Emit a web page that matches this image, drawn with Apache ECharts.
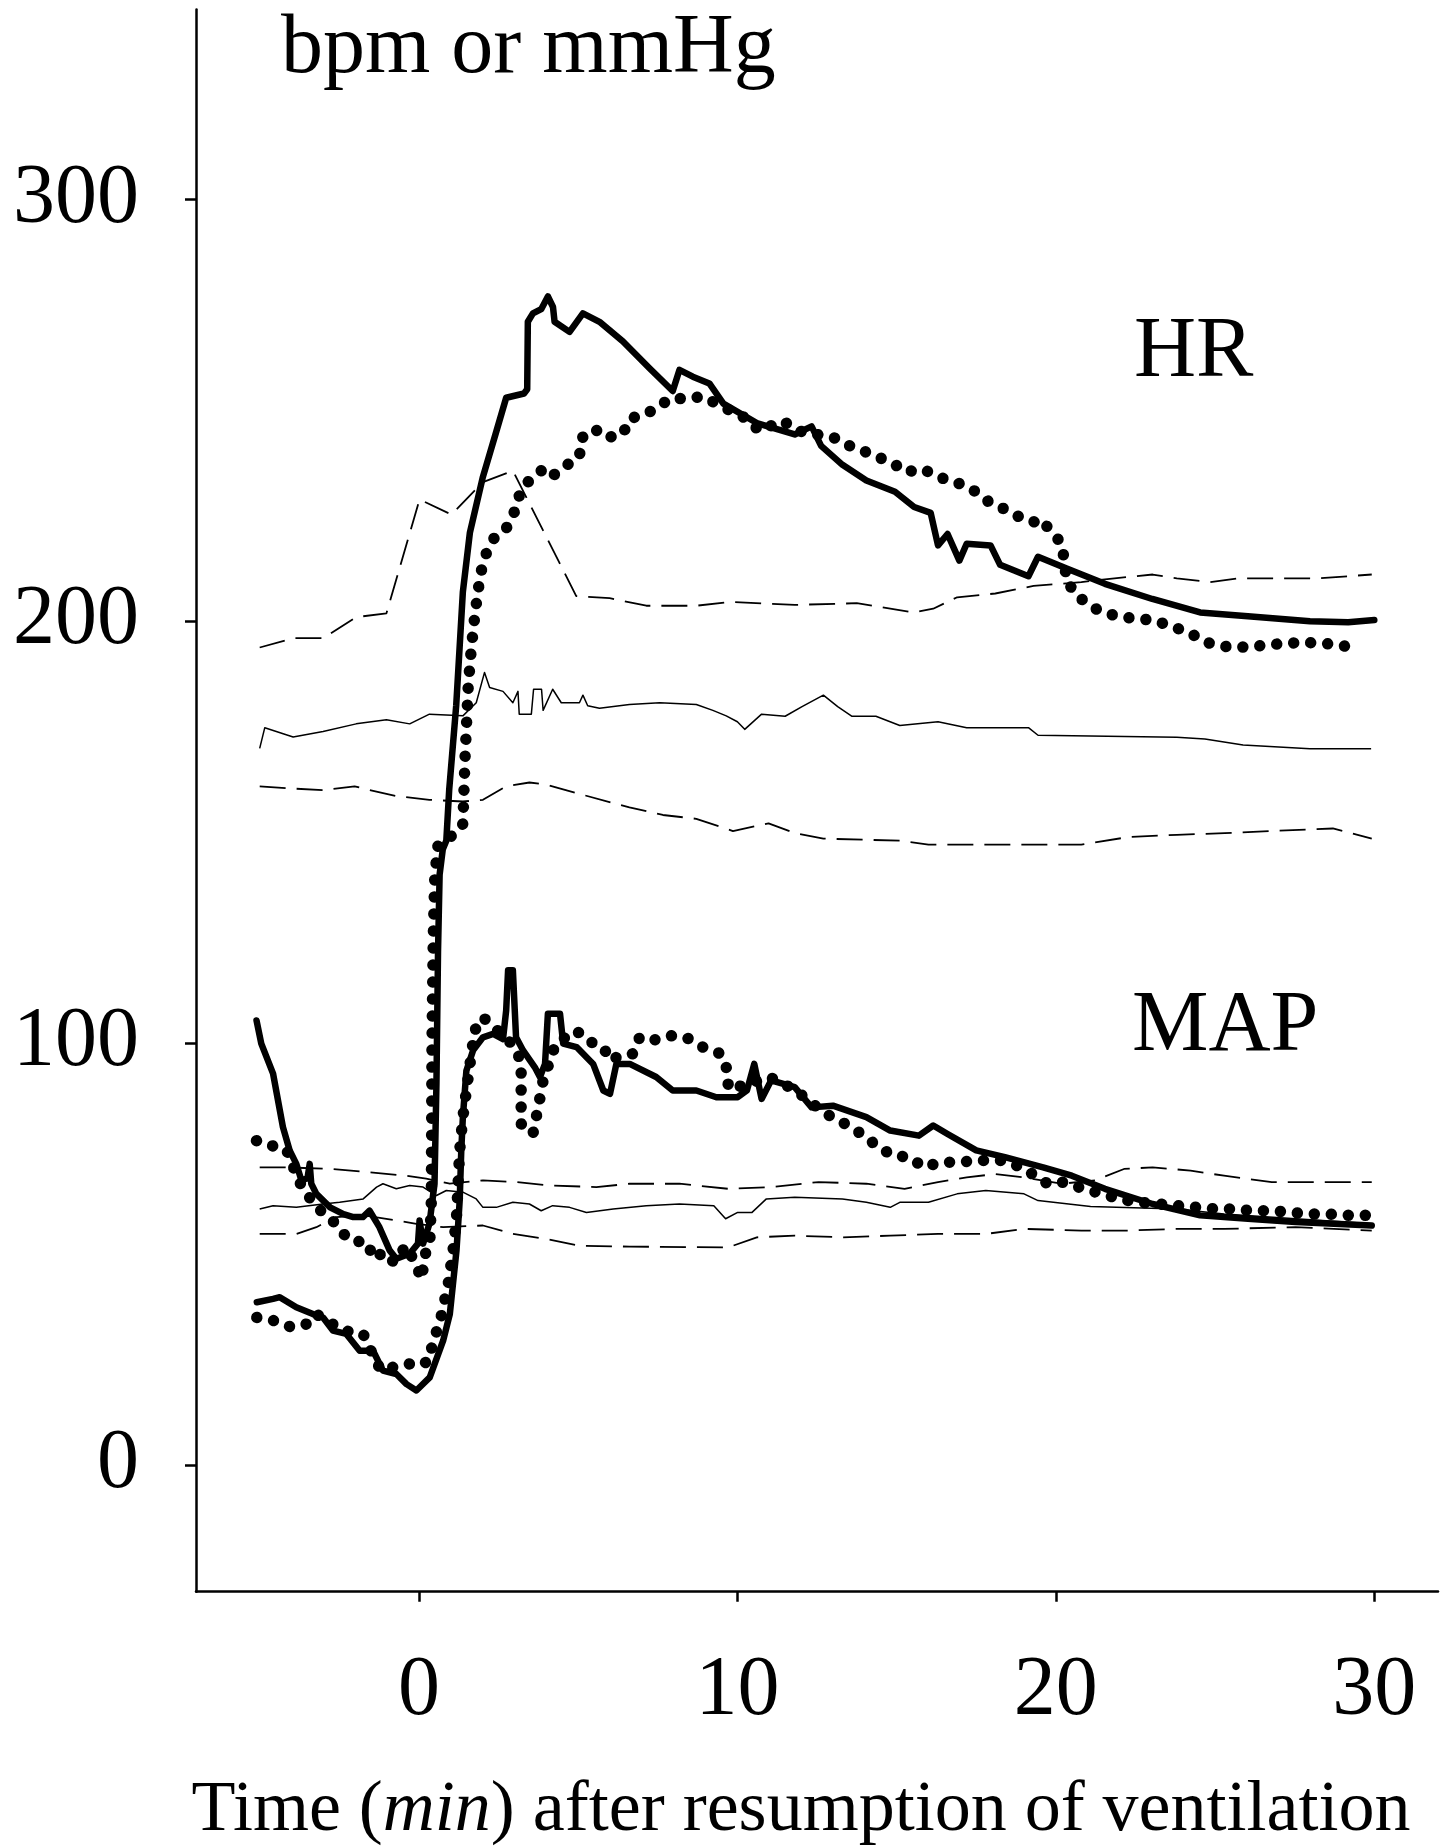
<!DOCTYPE html>
<html lang="en">

<head>
    <meta charset="UTF-8">
    <title>HR and MAP after resumption of ventilation</title>
    <script src="https://cdnjs.cloudflare.com/ajax/libs/echarts/6.0.0/echarts.min.js"></script>
</head>
<style>
    html,
    body {
        margin: 0;
        padding: 0;
        background: #fff;
    }
</style>

<body>
    <div id="main" style="width: 1449px;height:1847px;"></div>
</body>
<script>
    // tick labels
    var xTicks = [0, 10, 20, 30];
    var yTicks = [0, 100, 200, 300];

    // heart rate, thick solid group
    var hrSolid = [[-5.1, 105.4], [-4.95, 99.9], [-4.58, 92.8], [-4.27, 80.1], [-4.06, 74.6], [-3.85, 71.4], [-3.69, 67.5], [-3.5, 68], [-3.43, 71.4], [-3.38, 66.7], [-3.22, 64.3], [-2.79, 61.1], [-2.37, 59.5], [-2.06, 58.8], [-1.76, 58.8], [-1.55, 60.3], [-1.24, 56.4], [-0.92, 50.9], [-0.71, 48.9], [-0.29, 50.1], [-0.03, 52.5], [0.02, 58], [0.13, 52.5], [0.33, 57.2], [0.49, 66.7], [0.55, 90.4], [0.6, 122], [0.65, 140], [0.75, 146], [0.86, 148], [0.95, 160], [1.17, 180], [1.38, 207], [1.6, 221], [2.0, 234], [2.43, 245], [2.74, 253], [3.3, 254], [3.4, 255], [3.42, 271], [3.58, 273], [3.84, 274], [4.05, 277], [4.21, 274.5], [4.26, 271], [4.73, 268.6], [5.15, 273], [5.67, 271], [6.4, 266.4], [7.24, 260], [7.97, 254.6], [8.18, 259.6], [8.6, 258], [9.12, 256.4], [9.56, 251.6], [10.61, 247], [11.8, 244.3], [12.33, 246.2], [12.63, 241.6], [13.3, 237.1], [14.05, 233.4], [14.95, 230.7], [15.55, 227.1], [16.07, 225.7], [16.3, 218], [16.6, 220.7], [16.97, 214.4], [17.2, 218.4], [17.95, 218], [18.25, 213.4], [19.14, 210.7], [19.44, 215.3], [20.34, 212.5], [21.54, 208.9], [23.03, 205.3], [24.53, 202.1], [26.03, 201.2], [27.98, 200], [29.18, 199.8], [30, 200.3]];

    // heart rate, dotted group
    var hrDotted = [[-5.1, 76.9], [-4.8, 76], [-4.5, 75.5], [-4.2, 75], [-4.06, 73.4], [-3.85, 68.6], [-3.6, 65], [-3.16, 60.8], [-2.79, 58.5], [-2.47, 56.1], [-2.26, 53.7], [-1.9, 53], [-1.63, 52.9], [-1.42, 48.9], [-1.1, 50.5], [-0.79, 48.1], [-0.4, 52], [-0.08, 47.3], [0.08, 44.1], [0.2, 50], [0.34, 52.5], [0.39, 62.7], [0.41, 100], [0.45, 125], [0.5, 140], [0.6, 147], [0.8, 148], [1.0, 149], [1.2, 150], [1.38, 152], [1.45, 168], [1.55, 185], [1.65, 194], [1.75, 201], [1.85, 207], [1.96, 212], [2.11, 216], [2.38, 220], [2.74, 222], [3.0, 226], [3.16, 230], [3.47, 233.5], [3.84, 235.7], [4.1, 234], [4.42, 235.7], [4.73, 237.5], [5.04, 239], [5.1, 243.4], [5.52, 245.6], [5.88, 243.5], [6.4, 244.3], [6.61, 248], [7.14, 249.2], [7.56, 251], [7.87, 252.8], [8.39, 252.8], [8.91, 253.3], [9.5, 251], [10.3, 248], [10.68, 245.2], [11.43, 247.5], [11.88, 245.2], [13.08, 243.4], [13.53, 241.6], [13.98, 240.3], [14.43, 238.9], [14.88, 237.5], [15.32, 235.3], [15.7, 236.2], [16.07, 235.3], [16.45, 233.9], [16.75, 233.4], [17.12, 232.1], [17.5, 230.7], [17.95, 228], [18.4, 226.6], [18.84, 224.8], [19.29, 223.5], [19.52, 224.3], [19.82, 221.6], [20.19, 218.4], [20.27, 213.9], [20.34, 209.4], [20.72, 205.7], [21.24, 203], [21.91, 201.2], [22.44, 200.7], [23.03, 200.3], [23.63, 198.9], [24.23, 197.1], [24.83, 194.8], [25.43, 193.9], [26.03, 193.9], [26.63, 194.4], [27.23, 194.8], [27.83, 195], [28.35, 194.8], [28.95, 194.4], [29.55, 193]];

    // mean arterial pressure, thick solid group
    var mapSolid = [[-5.09, 38.6], [-4.58, 39.4], [-4.37, 39.8], [-3.85, 37.4], [-3.33, 35.8], [-3.01, 35.0], [-2.7, 31.9], [-2.28, 31.1], [-1.86, 27.1], [-1.44, 27.1], [-1.13, 22.4], [-0.71, 21.6], [-0.39, 19.2], [-0.08, 17.7], [0.34, 20.8], [0.76, 29.5], [0.97, 35.8], [1.07, 43], [1.18, 50.9], [1.28, 62.7], [1.33, 74.6], [1.38, 82.5], [1.49, 93.5], [1.7, 98.3], [2.01, 101.4], [2.33, 102.2], [2.64, 101], [2.74, 107.8], [2.8, 117.3], [2.95, 117.3], [3.05, 101.4], [3.27, 98.3], [3.64, 94.3], [3.8, 92], [3.96, 95.1], [4.05, 107], [4.43, 107], [4.53, 99.9], [4.95, 99.1], [5.47, 95.1], [5.79, 88.8], [6.0, 88], [6.2, 95.1], [6.62, 95.1], [7.45, 92], [7.97, 88.8], [8.71, 88.8], [9.34, 87.2], [10.01, 87.2], [10.3, 88.8], [10.53, 95.1], [10.76, 86.8], [11.06, 91.2], [11.8, 89.6], [12.33, 84.8], [13.0, 85.2], [14.05, 82.5], [14.8, 79.3], [15.7, 78.1], [16.15, 80.5], [16.6, 78.5], [17.5, 74.6], [18.4, 73], [19.6, 70.6], [20.5, 68.6], [21.54, 65.5], [23.04, 61.9], [24.53, 59.2], [26.03, 58.4], [27.53, 57.6], [29.92, 56.8]];

    // mean arterial pressure, dotted group
    var mapDotted = [[-5.09, 35], [-4.58, 34.3], [-4.0, 32.7], [-3.49, 33.5], [-3.22, 35.8], [-2.9, 34.3], [-2.38, 31.9], [-1.75, 31.1], [-1.5, 27], [-1.2, 22.5], [-0.81, 23.2], [-0.29, 24], [0.02, 23.6], [0.33, 24.8], [0.44, 29.5], [0.65, 33.5], [0.76, 37.4], [0.92, 43], [1.07, 50.9], [1.18, 58.8], [1.23, 66.7], [1.28, 74.6], [1.38, 82.5], [1.49, 88.8], [1.59, 94.3], [1.75, 103], [2.01, 106.2], [2.33, 103.8], [2.74, 101.4], [3.1, 98], [3.21, 94.3], [3.21, 80.9], [3.58, 78.5], [3.75, 85], [3.9, 91.2], [4.3, 100], [4.95, 103], [5.26, 100.7], [5.79, 99.1], [6.0, 95.9], [6.3, 97], [6.72, 97.5], [6.93, 101.4], [7.35, 100.7], [7.87, 101.8], [8.39, 101.4], [8.91, 99.1], [9.48, 97.5], [9.71, 93.1], [9.71, 89.2], [10.2, 90], [11, 92], [11.8, 89], [12.3, 86], [12.78, 83.3], [13.38, 80.9], [13.9, 78.5], [14.43, 75.4], [14.88, 73.4], [15.4, 73], [15.85, 70.6], [16.37, 71.8], [16.97, 71.8], [17.5, 72.2], [18.32, 72.2], [18.92, 70.6], [19.44, 68.2], [19.74, 66.7], [20.27, 67.1], [20.86, 65.5], [21.46, 64.3], [21.99, 63.1], [22.59, 62.3], [23.26, 61.9], [23.79, 61.5], [24.46, 61.1], [25.06, 60.7], [25.58, 60.7], [26.18, 60.3], [26.78, 60.3], [27.38, 59.9], [27.98, 59.5], [28.58, 59.5], [29.18, 59.2], [29.77, 59.2]];

    // reference band for HR (thin solid mean, dashed limits)
    var hrRefMean = [[-5.0, 169.9], [-4.84, 174.8], [-3.95, 172.6], [-3.01, 173.9], [-1.97, 175.7], [-1.02, 176.7], [-0.29, 175.7], [0.33, 178], [1.38, 177.6], [1.8, 180.7], [2.06, 187.9], [2.22, 184.3], [2.64, 183.4], [2.95, 180.7], [3.11, 183.4], [3.15, 178], [3.53, 178], [3.6, 183.9], [3.85, 183.9], [3.9, 178.9], [4.2, 183.9], [4.47, 180.7], [5.04, 180.7], [5.15, 182.5], [5.3, 180], [5.67, 179.4], [6.61, 180.3], [7.56, 180.7], [8.71, 180.3], [9.23, 178.9], [9.65, 177.6], [10.0, 176.2], [10.23, 174.4], [10.76, 178], [11.5, 177.5], [12.03, 179.8], [12.7, 182.5], [13.15, 179.8], [13.6, 177.5], [14.35, 177.5], [15.1, 175.3], [16.3, 176.2], [17.2, 174.8], [19.14, 174.8], [19.44, 173], [23.8, 172.5], [24.68, 172.1], [25.88, 170.7], [27.98, 169.8], [29.9, 169.8]];
    var hrRefUpper = [[-5.0, 193.8], [-3.95, 196], [-3.01, 196], [-1.97, 201], [-1.02, 201.9], [0.02, 228.9], [1.02, 225.3], [2.01, 233], [2.95, 235.7], [4.94, 206], [5.99, 205.5], [7.14, 203.7], [8.71, 203.7], [9.75, 204.6], [11.8, 203.9], [13.75, 204.3], [14.5, 203.4], [15.55, 202.1], [16.15, 203], [16.9, 205.7], [18.1, 206.6], [19.3, 208.4], [20.8, 209.3], [21.84, 210.2], [23.04, 211.1], [23.8, 210.2], [24.83, 209.3], [25.73, 210.2], [28.28, 210.2], [29.92, 211.1]];
    var hrRefLower = [[-5.0, 160.9], [-4.06, 160.4], [-3.01, 160], [-2.02, 160.9], [-1.55, 160], [-0.71, 158.6], [0.33, 157.7], [1.38, 157.3], [2.01, 157.7], [2.74, 160.9], [3.47, 161.8], [4.0, 161.3], [5.04, 159.1], [6.61, 155.9], [7.66, 154.1], [8.71, 153.2], [9.86, 150.3], [10.98, 152.1], [11.8, 149.8], [12.7, 148.5], [15.1, 148], [16.0, 147.1], [20.8, 147.1], [22.3, 148.9], [23.8, 149.4], [25.3, 149.8], [26.8, 150.3], [28.7, 150.9], [29.92, 148.5]];

    // reference band for MAP
    var mapRefMean = [[-5.0, 60.7], [-4.58, 61.5], [-3.85, 61.1], [-3.01, 61.9], [-2.49, 62.3], [-1.75, 63.1], [-1.33, 65.9], [-1.13, 66.7], [-0.71, 65.5], [-0.29, 66.3], [0.13, 65.9], [0.55, 63.9], [0.86, 65.1], [1.38, 64.7], [1.8, 63.1], [2.01, 61.1], [2.43, 61.1], [2.95, 62.3], [3.47, 61.9], [3.84, 60.3], [4.2, 61.5], [4.73, 61.1], [5.26, 59.9], [6.1, 60.7], [7.14, 61.5], [8.18, 61.9], [9.26, 61.5], [9.63, 58.4], [10.01, 59.9], [10.46, 59.9], [10.91, 63.1], [11.8, 63.5], [13.3, 63.1], [14.05, 62.3], [14.8, 61.1], [15.1, 62.3], [16.0, 62.3], [16.9, 64.3], [17.8, 65.1], [19.0, 64.3], [19.44, 62.7], [21.09, 61.3], [23.8, 60.7], [25.28, 59.5], [27.53, 58.4], [29.92, 57.2]];
    var mapRefUpper = [[-5.0, 70.6], [-4.27, 70.6], [-2.7, 70.2], [-1.55, 69.4], [-0.39, 68.6], [0.23, 67.9], [0.97, 66.7], [2.01, 67.5], [3.06, 67.1], [4.1, 66.3], [5.57, 65.9], [6.61, 66.7], [8.18, 66.7], [9.71, 65.5], [11.06, 65.9], [12.55, 67.1], [14.05, 66.7], [15.25, 65.5], [16.3, 67.1], [17.2, 68.2], [18.1, 69], [19.0, 68.2], [20.19, 66.7], [21.24, 67.5], [22.14, 70.2], [23.04, 70.6], [24.23, 69.8], [25.28, 68.6], [26.78, 67.1], [28.28, 67.1], [29.92, 67.1]];
    var mapRefLower = [[-5.0, 54.8], [-3.85, 54.8], [-3.22, 56.4], [-2.6, 58.8], [-1.75, 59.2], [-0.71, 58], [-0.08, 57.2], [0.76, 56.4], [2.01, 56.8], [2.95, 54.8], [4.0, 53.6], [5.04, 52.0], [6.61, 51.8], [9.71, 51.6], [10.61, 54.0], [11.8, 54.4], [13.3, 54.0], [14.8, 54.4], [16.3, 54.8], [17.8, 54.8], [19.0, 56.0], [20.8, 55.6], [22.3, 55.6], [23.8, 56.0], [25.28, 56.0], [27.53, 56.4], [29.92, 55.6]];

    var serif = '"Liberation Serif", "Times New Roman", serif';

    var chart = echarts.init(document.getElementById('main'));

    function lineSeries(data, style) {
        return {
            type: 'line',
            data: data,
            showSymbol: false,
            smooth: false,
            silent: true,
            lineStyle: Object.assign({ color: '#000', join: 'round' }, style)
        };
    }

    var thick = { width: 6.5, cap: 'round' };
    var dots = { width: 11.5, type: [0.01, 17], cap: 'round' };
    var thin = { width: 1.5 };
    var dash = { width: 1.8, type: [26, 11] };

    var option = {
        animation: false,
        backgroundColor: '#fff',
        grid: {
            left: 196,
            right: 11,
            top: 9.6,
            bottom: 255.3,
            outerBoundsMode: 'none'
        },
        xAxis: {
            type: 'value',
            min: -7,
            max: 32,
            name: 'Time ({i|min}) after resumption of ventilation',
            nameLocation: 'middle',
            nameGap: 183,
            nameTextStyle: {
                fontFamily: serif,
                fontSize: 72,
                lineHeight: 72,
                color: '#000',
                padding: [0, 32, 0, 0],
                rich: {
                    i: { fontFamily: serif, fontSize: 72, fontStyle: 'italic', color: '#000', lineHeight: 72 }
                }
            },
            splitLine: { show: false },
            axisLine: { onZero: false, lineStyle: { color: '#000', width: 2.5 } },
            axisTick: { customValues: xTicks, length: 10, lineStyle: { color: '#000', width: 2.5 } },
            axisLabel: {
                customValues: xTicks,
                margin: 58,
                fontFamily: serif,
                fontSize: 84,
                color: '#000'
            }
        },
        yAxis: {
            type: 'value',
            min: -30,
            max: 345,
            splitLine: { show: false },
            axisLine: { show: true, onZero: false, lineStyle: { color: '#000', width: 2.5 } },
            axisTick: { show: true, customValues: yTicks, length: 11, lineStyle: { color: '#000', width: 2.5 } },
            axisLabel: {
                customValues: yTicks,
                margin: 57,
                fontFamily: serif,
                fontSize: 84,
                color: '#000'
            }
        },
        graphic: [
            { type: 'text', left: 281, top: 8, style: { text: 'bpm or mmHg', font: '84px ' + serif, fill: '#000' } },
            { type: 'text', left: 1134, top: 310, style: { text: 'HR', font: '86px ' + serif, fill: '#000' } },
            { type: 'text', left: 1132, top: 984, style: { text: 'MAP', font: '86px ' + serif, fill: '#000' } }
        ],
        series: [
            lineSeries(hrRefUpper, dash),
            lineSeries(hrRefMean, thin),
            lineSeries(hrRefLower, dash),
            lineSeries(mapRefUpper, dash),
            lineSeries(mapRefMean, thin),
            lineSeries(mapRefLower, dash),
            lineSeries(hrSolid, thick),
            lineSeries(mapSolid, thick),
            lineSeries(hrDotted, dots),
            lineSeries(mapDotted, dots)
        ]
    };

    chart.setOption(option);
</script>

</html>
